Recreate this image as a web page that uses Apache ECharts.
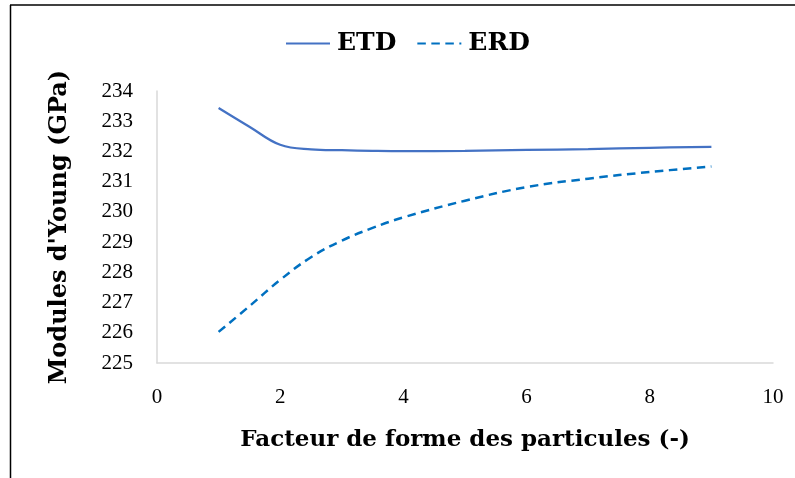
<!DOCTYPE html>
<html>
<head>
<meta charset="utf-8">
<script src="https://cdn.jsdelivr.net/npm/echarts@6/dist/echarts.min.js"></script>
<style>
  html, body { margin: 0; padding: 0; background: #fff; }
  #chart { width: 795px; height: 478px; }
</style>
</head>
<body>
<div id="chart"></div>
<script>
// Shape factor of the particles (x) against Young's modulus (GPa)
const shapeFactor = [1, 1.5, 2, 2.5, 3, 3.5, 4, 5, 6, 7, 8, 9];
const etdValues = [233.44, 232.82, 232.22, 232.07, 232.04, 232.02, 232.01, 232.02, 232.05, 232.08, 232.12, 232.15];
const erdValues = [226.03, 226.88, 227.75, 228.5, 229.05, 229.47, 229.82, 230.37, 230.82, 231.1, 231.32, 231.5];
const xTicks = [0, 2, 4, 6, 8, 10];
const yTicks = [225, 226, 227, 228, 229, 230, 231, 232, 233, 234];

const serif = '"Liberation Serif", "DejaVu Serif", serif';
const boldSerif = '"DejaVu Serif", "Liberation Serif", serif';

const pairs = (xs, ys) => xs.map((x, i) => [x, ys[i]]);

const chart = echarts.init(document.getElementById('chart'), null, { renderer: 'canvas' });
chart.setOption({
  backgroundColor: '#ffffff',
  animation: false,
  graphic: [
    { type: 'line', shape: { x1: 10, y1: 5, x2: 795, y2: 5 }, style: { stroke: '#000', lineWidth: 1.5 } },
    { type: 'line', shape: { x1: 10.5, y1: 5, x2: 10.5, y2: 478 }, style: { stroke: '#000', lineWidth: 1.5 } }
  ],
  legend: {
    top: 26,
    left: 280,
    itemWidth: 44,
    itemHeight: 14,
    itemGap: 20,
    itemStyle: { opacity: 0 },
    textStyle: { fontFamily: boldSerif, fontWeight: 'bold', fontSize: 25, color: '#000', padding: [0, 0, 0, 2] },
    data: ['ETD', 'ERD']
  },
  grid: { left: 157, right: 22, top: 91, bottom: 115, containLabel: false },
  xAxis: {
    type: 'value',
    min: xTicks[0],
    max: xTicks[xTicks.length - 1],
    interval: 2,
    name: 'Facteur de forme des particules (-)',
    nameLocation: 'middle',
    nameGap: 66,
    nameTextStyle: { fontFamily: boldSerif, fontWeight: 'bold', fontSize: 23, color: '#000' },
    axisLine: { lineStyle: { color: '#d9d9d9', width: 1.5 } },
    axisTick: { show: false },
    splitLine: { show: false },
    axisLabel: { fontFamily: serif, fontSize: 21, color: '#000', margin: 24 }
  },
  yAxis: {
    type: 'value',
    min: yTicks[0],
    max: yTicks[yTicks.length - 1],
    interval: 1,
    name: "Modules d'Young (GPa)",
    nameLocation: 'middle',
    nameGap: 85,
    nameTextStyle: { fontFamily: boldSerif, fontWeight: 'bold', fontSize: 24, color: '#000' },
    axisLine: { show: true, lineStyle: { color: '#d9d9d9', width: 1.5 } },
    axisTick: { show: false },
    splitLine: { show: false },
    axisLabel: { fontFamily: serif, fontSize: 21, color: '#000', margin: 24 }
  },
  series: [
    {
      name: 'ETD',
      type: 'line',
      smooth: 0.4,
      symbol: 'none',
      data: pairs(shapeFactor, etdValues),
      itemStyle: { color: '#4472c4' },
      lineStyle: { color: '#4472c4', width: 2.25 }
    },
    {
      name: 'ERD',
      type: 'line',
      smooth: 0.4,
      symbol: 'none',
      data: pairs(shapeFactor, erdValues),
      itemStyle: { color: '#0070c0' },
      lineStyle: { color: '#0070c0', width: 2.5, type: [8.5, 5.5] }
    }
  ]
});
</script>
</body>
</html>
